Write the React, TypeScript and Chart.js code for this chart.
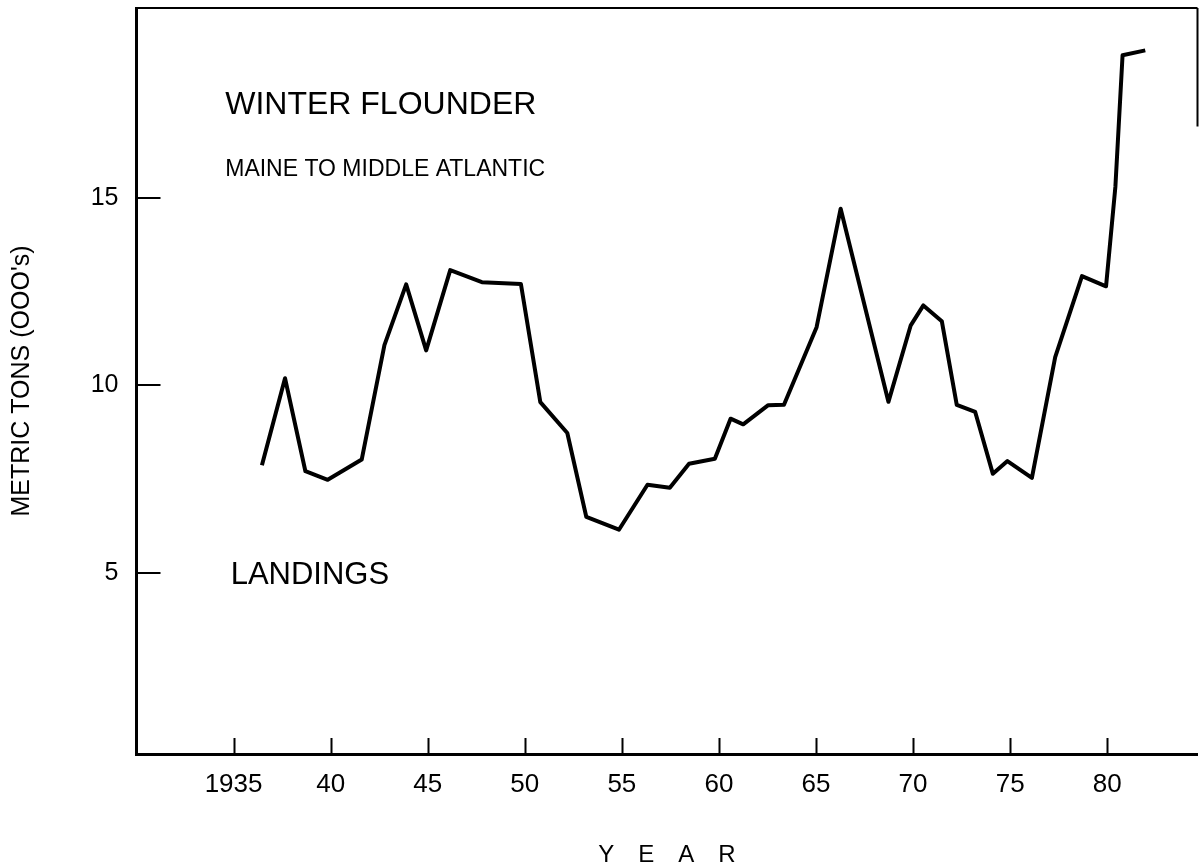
import { useEffect, useRef } from "react";
import { Chart, registerables } from "chart.js";

Chart.register(...registerables);

// Year (as plotted) and landings in thousands of metric tons
const years = [
  1936.46, 1937.65, 1938.7, 1939.85, 1941.6, 1942.77, 1943.89, 1944.92, 1946.16, 1947.79,
  1949.8, 1950.8, 1952.19, 1953.17, 1954.85, 1956.32, 1957.47, 1958.46, 1959.79, 1960.6,
  1961.25, 1962.54, 1963.35, 1965.03, 1966.27, 1968.73, 1969.88, 1970.53, 1971.48, 1972.25,
  1973.2, 1974.11, 1974.86, 1976.12, 1977.32, 1978.7, 1979.94, 1980.42, 1980.79, 1981.96,
];
const landings = [
  7.87, 10.19, 7.71, 7.48, 8.02, 11.07, 12.69, 10.93, 13.07, 12.75,
  12.7, 9.55, 8.73, 6.49, 6.15, 7.35, 7.27, 7.91, 8.04, 9.11,
  8.96, 9.47, 9.48, 11.55, 14.71, 9.56, 11.6, 12.13, 11.71, 9.48,
  9.29, 7.64, 7.98, 7.53, 10.75, 12.91, 12.64, 15.29, 18.8, 18.93,
];

const xTickValues = [1935, 1940, 1945, 1950, 1955, 1960, 1965, 1970, 1975, 1980];
const xTickLabels = ["1935", "40", "45", "50", "55", "60", "65", "70", "75", "80"];
const yTickValues = [5, 10, 15];
const yTickLabels = ["5", "10", "15"];

const titleText = "WINTER FLOUNDER";
const subtitleText = "MAINE TO MIDDLE ATLANTIC";
const seriesLabel = "LANDINGS";
const xAxisTitle = "Y\u2002\u2002E\u2002\u2002A\u2002\u2002R";
const yAxisTitle = "METRIC TONS (OOO's)";

const FONT = "'Liberation Sans', Arial, sans-serif";

const framePlugin = {
  id: "frameAndNotes",
  afterDraw(chart: any) {
    const { ctx, chartArea: a, scales } = chart;
    const xs = scales.x;
    const ys = scales.y;
    ctx.save();
    ctx.strokeStyle = "#000";
    ctx.lineCap = "butt";
    // top frame and partial right frame
    ctx.lineWidth = 2;
    ctx.beginPath();
    ctx.moveTo(a.left, a.top);
    ctx.lineTo(a.right, a.top);
    ctx.moveTo(a.right, a.top);
    ctx.lineTo(a.right, ys.getPixelForValue(16.9));
    ctx.stroke();
    // inward tick marks
    ctx.lineWidth = 2;
    ctx.beginPath();
    xTickValues.forEach((v) => {
      const px = Math.round(xs.getPixelForValue(v)) + 0.5;
      ctx.moveTo(px, a.bottom);
      ctx.lineTo(px, a.bottom - 16);
    });
    yTickValues.forEach((v) => {
      const py = Math.round(ys.getPixelForValue(v));
      ctx.moveTo(a.left, py);
      ctx.lineTo(a.left + 24, py);
    });
    ctx.stroke();
    // annotations
    ctx.fillStyle = "#000";
    ctx.textAlign = "left";
    ctx.textBaseline = "middle";
    ctx.font = `32px ${FONT}`;
    ctx.fillText(titleText, xs.getPixelForValue(1934.57), ys.getPixelForValue(17.46));
    ctx.font = `23px ${FONT}`;
    ctx.fillText(subtitleText, xs.getPixelForValue(1934.57), ys.getPixelForValue(15.74));
    ctx.font = `31px ${FONT}`;
    ctx.fillText(seriesLabel, xs.getPixelForValue(1934.85), ys.getPixelForValue(4.94));
    ctx.restore();
  },
};

export default function App() {
  const canvasRef = useRef<HTMLCanvasElement | null>(null);

  useEffect(() => {
    const canvas = canvasRef.current;
    if (!canvas) return;
    const chart = new Chart(canvas, {
      type: "line",
      data: {
        datasets: [
          {
            label: seriesLabel,
            data: years.map((y, i) => ({ x: y, y: landings[i] })),
            borderColor: "#000",
            borderWidth: 4,
            pointRadius: 0,
            tension: 0,
            fill: false,
            borderJoinStyle: "round",
            borderCapStyle: "butt",
          },
        ],
      },
      options: {
        responsive: false,
        animation: false,
        layout: { padding: { top: 8, right: 1.5, left: 0, bottom: 0 } },
        plugins: {
          legend: { display: false },
          tooltip: { enabled: false },
          title: { display: false },
        },
        scales: {
          x: {
            type: "linear",
            min: 1930,
            max: 1984.65,
            afterBuildTicks: (s: any) => {
              s.ticks = xTickValues.map((v) => ({ value: v }));
            },
            afterFit: (s: any) => {
              s.height = 109;
              s.paddingLeft = 0;
              s.paddingRight = 0;
            },
            grid: { display: false, drawTicks: false },
            border: { display: true, color: "#000", width: 3 },
            ticks: {
              color: "#000",
              font: { family: FONT, size: 26 },
              padding: 15,
              maxRotation: 0,
              autoSkip: false,
              callback: (v: any) => {
                const i = xTickValues.indexOf(Number(v));
                return i >= 0 ? xTickLabels[i] : "";
              },
            },
            title: {
              display: true,
              text: xAxisTitle,
              color: "#000",
              font: { family: FONT, size: 24, lineHeight: 0.8 },
              padding: { top: 0, bottom: -2 },
            },
          },
          y: {
            type: "linear",
            min: 0.17,
            max: 20.06,
            afterBuildTicks: (s: any) => {
              s.ticks = yTickValues.map((v) => ({ value: v }));
            },
            afterFit: (s: any) => {
              s.width = 136.5;
              s.paddingTop = 0;
              s.paddingBottom = 0;
            },
            grid: { display: false, drawTicks: false },
            border: { display: true, color: "#000", width: 3 },
            ticks: {
              color: "#000",
              font: { family: FONT, size: 25 },
              padding: 18,
              callback: (v: any) => {
                const i = yTickValues.indexOf(Number(v));
                return i >= 0 ? yTickLabels[i] : "";
              },
            },
            title: {
              display: true,
              text: yAxisTitle,
              color: "#000",
              font: { family: FONT, size: 25, lineHeight: 1.2 },
              padding: { top: 7, bottom: 0 },
            },
          },
        },
      },
      plugins: [framePlugin],
    });
    return () => chart.destroy();
  }, []);

  return (
    <div style={{ position: "absolute", left: 0, top: 0, width: 1199, height: 863, background: "#fff" }}>
      <canvas ref={canvasRef} width={1199} height={863} style={{ display: "block" }} />
    </div>
  );
}
